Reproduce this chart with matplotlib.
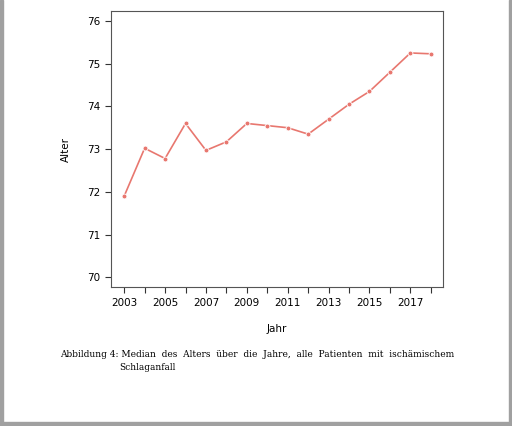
import matplotlib
matplotlib.use("Agg")
import matplotlib.pyplot as plt
from matplotlib.patches import Rectangle

years = list(range(2003, 2019))
median_age = [71.9, 73.02, 72.78, 73.6, 72.97, 73.17, 73.6, 73.55, 73.5, 73.35,
              73.7, 74.05, 74.35, 74.8, 75.25, 75.23]
yticks = [70, 71, 72, 73, 74, 75, 76]
xticks = [2003, 2005, 2007, 2009, 2011, 2013, 2015, 2017]

fig = plt.figure(figsize=(5.12, 4.26), dpi=100)
fig.patch.set_facecolor("white")
# page borders
fig.add_artist(Rectangle((0, 0), 0.005, 1, transform=fig.transFigure, color="#a0a0a0"))
fig.add_artist(Rectangle((0.994, 0), 0.006, 1, transform=fig.transFigure, color="#a0a0a0"))
fig.add_artist(Rectangle((0, 0), 1, 0.01, transform=fig.transFigure, color="#a0a0a0"))

ax = fig.add_axes([0.217, 0.326, 0.648, 0.648])
ax.plot(years, median_age, color="#e8776f", lw=1.2, marker="o", ms=3.5,
        markeredgecolor="white", markeredgewidth=0.6)
ax.set_xlim(2002.36, 2018.59)
ax.set_ylim(69.77, 76.23)
ax.set_yticks(yticks)
ax.set_xticks(years)
ax.set_xticklabels([str(y) if y in xticks else "" for y in years])
for s in ax.spines.values():
    s.set_color("#555555")
    s.set_linewidth(0.8)
ax.tick_params(labelsize=7.5, length=4, width=0.8, color="#333333")
ax.set_xlabel("Jahr", fontsize=7.5, labelpad=12)
ax.set_ylabel("Alter", fontsize=7.5, labelpad=12)

fig.text(0.117, 0.168, "Abbildung 4: Median  des  Alters  über  die  Jahre,  alle  Patienten  mit  ischämischem",
         fontsize=6.5, family="DejaVu Serif", va="center")
fig.text(0.232, 0.137, "Schlaganfall", fontsize=6.5, family="DejaVu Serif", va="center")

fig.savefig("out.png", dpi=100)
